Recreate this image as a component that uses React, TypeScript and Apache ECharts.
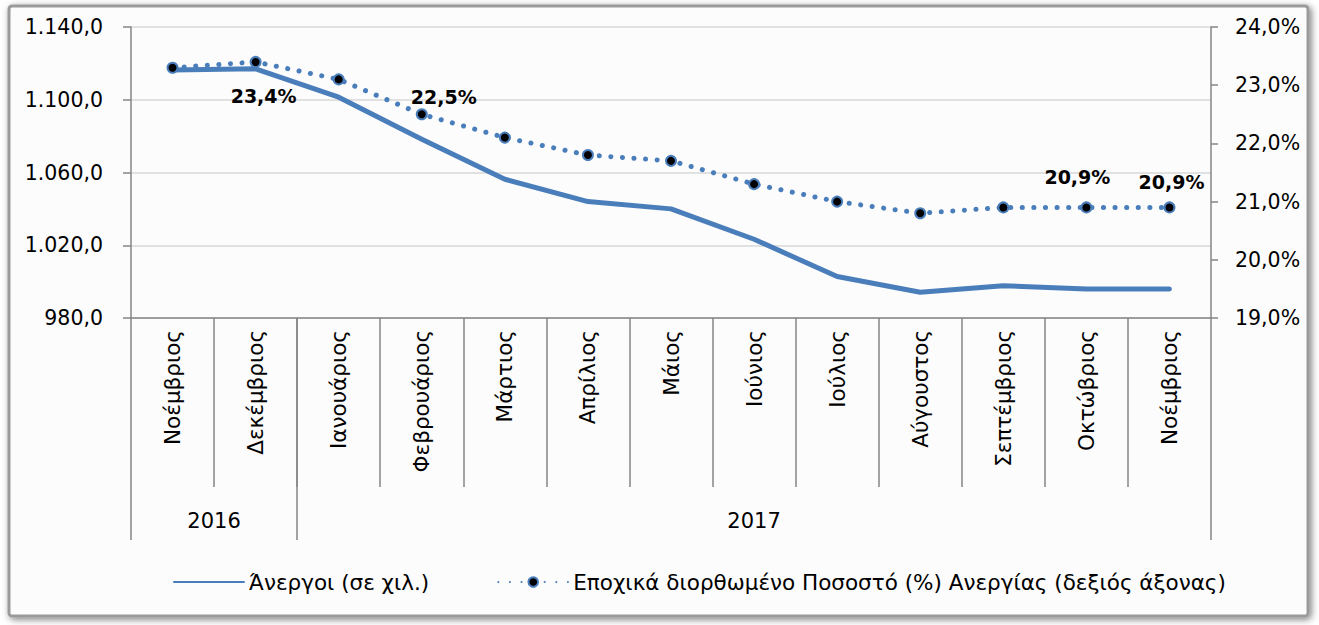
import React, { useEffect, useRef } from "react";
import * as echarts from "echarts";

const months = [
  "Νοέμβριος", "Δεκέμβριος", "Ιανουάριος", "Φεβρουάριος", "Μάρτιος", "Απρίλιος",
  "Μάιος", "Ιούνιος", "Ιούλιος", "Αύγουστος", "Σεπτέμβριος", "Οκτώβριος", "Νοέμβριος",
];
const years = ["2016", "2017"];
const yearStarts = [0, 2];
const unemployed = [1116.4, 1117.0, 1101.4, 1078.3, 1056.3, 1044.0, 1040.0, 1023.3, 1002.8, 994.2, 997.7, 996.0, 995.9];
const rate = [23.3, 23.4, 23.1, 22.5, 22.1, 21.8, 21.7, 21.3, 21.0, 20.8, 20.9, 20.9, 20.9];
const labelledPoints = [1, 3, 11, 12];
const seriesNames = ["Άνεργοι (σε χιλ.)", "Εποχικά διορθωμένο Ποσοστό (%) Ανεργίας (δεξιός άξονας)"];

const FONT = "DejaVu Sans";
const BLUE = "#4A7EBB";
const AXIS = "#868686";

const fmtNum = (v: number, d: number) => {
  const s = v.toFixed(d);
  const [i, f] = s.split(".");
  return i.replace(/\B(?=(\d{3})+(?!\d))/g, ".") + (f ? "," + f : "");
};

const labelCfg: Record<number, any> = {
  1: { position: "bottom", distance: 19, offset: [8, 0] },
  3: { position: "top", distance: 2, offset: [22, 0] },
  11: { position: "top", distance: 15, offset: [-9, 0] },
  12: { position: "top", distance: 10, offset: [2, 0] },
};

export default function App() {
  const ref = useRef<HTMLDivElement>(null);
  useEffect(() => {
    const chart = echarts.init(ref.current!, undefined, { renderer: "svg" });
    const n = months.length;
    const monthBounds = months.slice(1).map((_, i) => i + 1);
    chart.setOption({
      animation: false,
      backgroundColor: "#ffffff",
      textStyle: { fontFamily: FONT, color: "#000" },
      graphic: [
        {
          type: "rect",
          z: -10,
          shape: { x: 9, y: 6, width: 1299, height: 610, r: 3 },
          style: {
            fill: "#fcfcfc",
            stroke: "#9a9a9a",
            lineWidth: 3,
            shadowBlur: 7,
            shadowColor: "rgba(0,0,0,0.5)",
            shadowOffsetX: 2,
            shadowOffsetY: 2,
          },
        },
      ],
      grid: { left: 131, right: 108, top: 27, bottom: 307 },
      legend: {
        left: 168,
        top: 566,
        itemWidth: 70,
        itemHeight: 12,
        itemGap: 68,
        textStyle: { fontFamily: FONT, fontSize: 21.5, color: "#000" },
        data: seriesNames,
      },
      xAxis: [
        {
          type: "category",
          data: months,
          boundaryGap: true,
          axisLine: { onZero: false, lineStyle: { color: AXIS, width: 1.5 } },
          axisTick: { show: false },
          axisLabel: {
            interval: 0,
            rotate: 90,
            margin: 12,
            fontSize: 21.5,
            fontFamily: FONT,
            color: "#000",
          },
        },
        {
          type: "value",
          min: 0,
          max: n,
          position: "bottom",
          axisLine: { show: false, onZero: false },
          splitLine: { show: false },
          axisTick: {
            show: true,
            customValues: [...yearStarts, n],
            length: 222,
            lineStyle: { color: AXIS, width: 1.5 },
          },
          axisLabel: {
            customValues: yearStarts.map((s, i) => (s + (i + 1 < yearStarts.length ? yearStarts[i + 1] : n)) / 2),
            formatter: (v: number) => {
              let idx = 0;
              yearStarts.forEach((s, i) => { if (v >= s) idx = i; });
              return years[idx];
            },
            margin: 192,
            fontSize: 21,
            fontFamily: FONT,
            color: "#000",
          },
        },
        {
          type: "value",
          min: 0,
          max: n,
          position: "bottom",
          axisLine: { show: false, onZero: false },
          splitLine: { show: false },
          axisTick: {
            show: true,
            customValues: monthBounds,
            length: 169,
            lineStyle: { color: AXIS, width: 1.5 },
          },
          axisLabel: { show: false },
        },
      ],
      yAxis: [
        {
          type: "value",
          min: 980,
          max: 1140,
          interval: 40,
          position: "left",
          axisLine: { show: true, onZero: false, lineStyle: { color: AXIS, width: 1.5 } },
          axisTick: { show: true, length: 8, lineStyle: { color: AXIS, width: 1.5 } },
          splitLine: { lineStyle: { color: "#d9d9d9", width: 1.5 } },
          axisLabel: { formatter: (v: number) => fmtNum(v, 1), margin: 28, fontSize: 20.5, fontFamily: FONT, color: "#000" },
        },
        {
          type: "value",
          min: 19,
          max: 24,
          interval: 1,
          position: "right",
          axisLine: { show: true, onZero: false, lineStyle: { color: AXIS, width: 1.5 } },
          axisTick: { show: true, length: 7, lineStyle: { color: AXIS, width: 1.5 } },
          splitLine: { show: false },
          axisLabel: { formatter: (v: number) => fmtNum(v, 1) + "%", margin: 24, fontSize: 20.5, fontFamily: FONT, color: "#000" },
        },
      ],
      series: [
        {
          name: seriesNames[0],
          type: "line",
          data: unemployed,
          yAxisIndex: 0,
          showSymbol: false,
          symbol: "none",
          lineStyle: { color: BLUE, width: 5, cap: "round", join: "round" },
          itemStyle: { color: "rgba(0,0,0,0)" },
          z: 2,
        },
        {
          name: seriesNames[1],
          type: "line",
          yAxisIndex: 1,
          data: rate.map((v, i) =>
            labelledPoints.includes(i)
              ? { value: v, label: { show: true, ...labelCfg[i] } }
              : v
          ),
          symbol: "circle",
          symbolSize: 10,
          itemStyle: { color: "#000", borderColor: BLUE, borderWidth: 2 },
          lineStyle: { color: BLUE, width: 5, type: [0.1, 11.5], cap: "round" },
          label: {
            show: false,
            formatter: (p: any) => fmtNum(p.value, 1) + "%",
            fontFamily: FONT,
            fontSize: 19,
            fontWeight: "bold",
            color: "#000",
          },
          z: 3,
        },
      ],
    });
    return () => chart.dispose();
  }, []);
  return <div ref={ref} style={{ position: "absolute", left: 0, top: 0, width: 1319, height: 625 }} />;
}
